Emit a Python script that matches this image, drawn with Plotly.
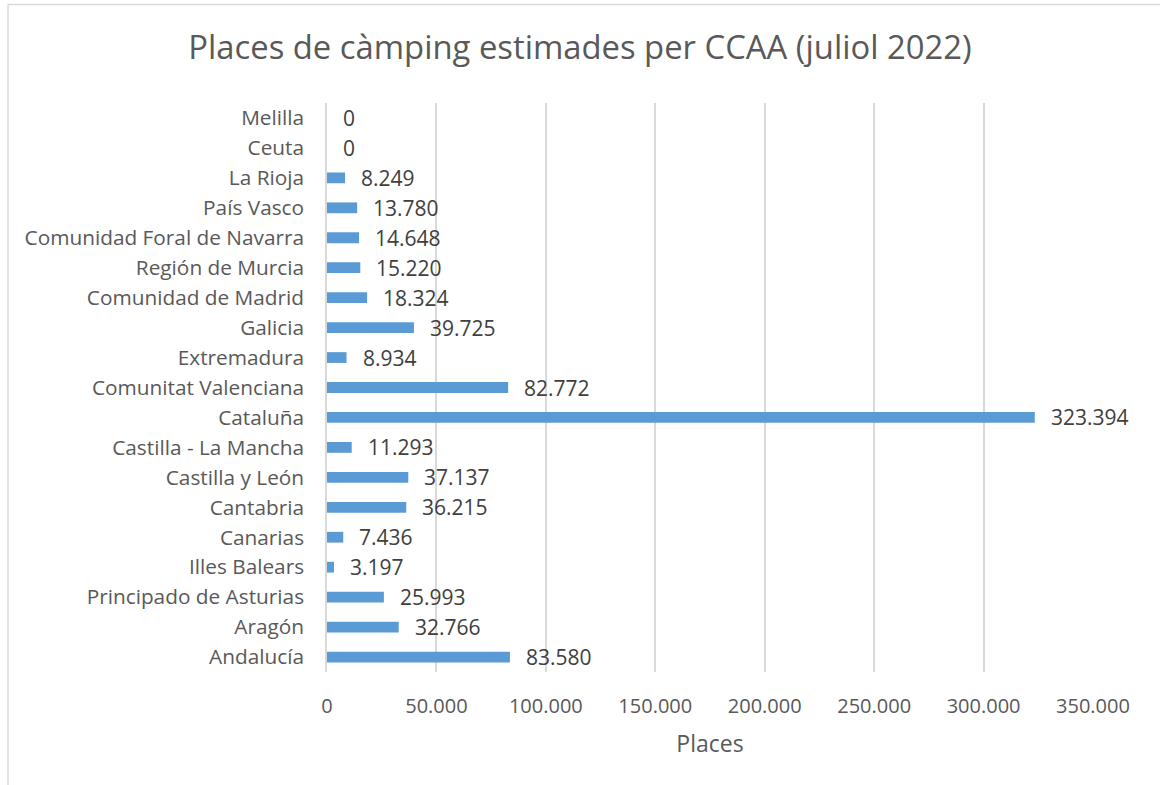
import plotly.graph_objects as go

categories = ["Andalucía", "Aragón", "Principado de Asturias", "Illes Balears", "Canarias",
              "Cantabria", "Castilla y León", "Castilla - La Mancha", "Cataluña",
              "Comunitat Valenciana", "Extremadura", "Galicia", "Comunidad de Madrid",
              "Región de Murcia", "Comunidad Foral de Navarra", "País Vasco", "La Rioja",
              "Ceuta", "Melilla"]
values = [83580, 32766, 25993, 3197, 7436, 36215, 37137, 11293, 323394, 82772,
          8934, 39725, 18324, 15220, 14648, 13780, 8249, 0, 0]
tick_vals = [0, 50000, 100000, 150000, 200000, 250000, 300000, 350000]
tick_text = ["0", "50.000", "100.000", "150.000", "200.000", "250.000", "300.000", "350.000"]

FONT = "Open Sans"
TXT = "#595959"

L, R, T, B = 327, 67, 103, 113
W, H = 1160, 785
pw, ph = W - L - R, H - T - B

fig = go.Figure(go.Bar(
    y=categories, x=values, orientation="h",
    marker=dict(color="#5B9BD5", line=dict(width=0)),
    width=0.36,
    hoverinfo="skip",
))

def fmt(v):
    return f"{v:,}".replace(",", ".")

annotations = []
for c, v in zip(categories, values):
    annotations.append(dict(x=v, y=c, xref="x", yref="y", text=fmt(v), showarrow=False,
                            xanchor="left", yanchor="middle", xshift=14,
                            font=dict(family=FONT, size=21, color="#404040")))

def px_x(p):
    return (p - L) / pw

def px_y(p):
    return (T + ph - p) / ph

shapes = [
    dict(type="line", xref="paper", yref="paper", x0=px_x(8), x1=px_x(1200), y0=px_y(4.5), y1=px_y(4.5),
         line=dict(color="#D9D9D9", width=1.5)),
    dict(type="line", xref="paper", yref="paper", x0=px_x(8), x1=px_x(8), y0=px_y(4.5), y1=px_y(800),
         line=dict(color="#D9D9D9", width=1.5)),
]

fig.update_layout(
    width=W, height=H,
    margin=dict(l=L, r=R, t=T, b=B),
    paper_bgcolor="white", plot_bgcolor="white",
    separators=",.",
    title=dict(text="Places de càmping estimades per CCAA (juliol 2022)",
               x=0.5, xref="container", xanchor="center", y=1 - 48 / H, yanchor="middle",
               font=dict(family=FONT, size=32.8, color=TXT)),
    xaxis=dict(range=[0, 350000], tickvals=tick_vals, ticktext=tick_text,
               showgrid=True, gridcolor="#D9D9D9", gridwidth=1.5, zeroline=False,
               showline=False, ticks="", ticklabelstandoff=20,
               tickfont=dict(family=FONT, size=20, color=TXT),
               title=dict(text="Places", font=dict(family=FONT, size=23, color=TXT), standoff=17)),
    yaxis=dict(categoryorder="array", categoryarray=categories, range=[-0.5, 18.5],
               showgrid=False, zeroline=False, showline=True, linecolor="#D9D9D9", linewidth=1.5,
               ticks="", ticklabelstandoff=17,
               tickfont=dict(family=FONT, size=20.8, color=TXT)),
    annotations=annotations,
    shapes=shapes,
    showlegend=False,
    bargap=0.64,
)

fig.write_html("out.html", config={"displayModeBar": False},
               post_script="document.body.style.margin='0';document.body.style.overflow='hidden';")
